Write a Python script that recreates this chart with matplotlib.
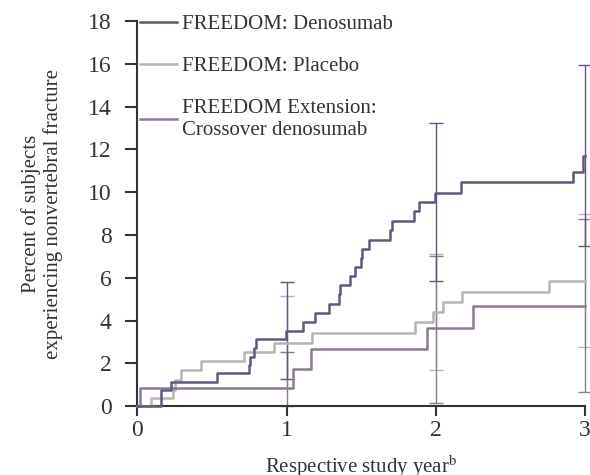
import numpy as np
import matplotlib
matplotlib.use('Agg')
import matplotlib.pyplot as plt

plt.rcParams['font.family'] = ['Liberation Serif', 'DejaVu Serif']
plt.rcParams['mathtext.fontset'] = 'stix'

# Kaplan-Meier style step curves (years, percent)
deno_x = [0, 0.155, 0.227, 0.535, 0.747, 0.758, 0.78, 0.798, 0.995, 1.111, 1.189, 1.283,
          1.35, 1.357, 1.423, 1.457, 1.502, 1.508, 1.551, 1.691, 1.709, 1.852, 1.888,
          1.997, 2.17, 2.92, 2.99, 3.0]
deno_y = [0, 0.76, 1.14, 1.55, 1.94, 2.29, 2.71, 3.12, 3.53, 3.95, 4.36, 4.79,
          5.22, 5.64, 6.06, 6.5, 6.92, 7.35, 7.78, 8.22, 8.65, 9.1, 9.53,
          9.98, 10.47, 10.94, 11.67, 11.67]

plac_x = [0, 0.093, 0.24, 0.253, 0.289, 0.423, 0.713, 0.914, 1.17, 1.86, 1.98, 2.05,
          2.18, 2.76, 3.0]
plac_y = [0, 0.4, 0.76, 1.21, 1.67, 2.11, 2.53, 2.96, 3.43, 3.92, 4.39, 4.85,
          5.35, 5.86, 5.86]

ext_x = [0, 0.02, 1.04, 1.167, 1.94, 2.25, 3.0]
ext_y = [0, 0.85, 1.75, 2.67, 3.64, 4.66, 4.66]

# 95% CI at each year
ci_x = [1, 2, 3]
deno_lo = [1.27, 5.83, 7.47]
deno_hi = [5.78, 13.24, 15.95]
plac_lo = [0.85, 1.71, 2.74]
plac_hi = [5.13, 7.10, 8.96]
ext_lo = [0.0, 0.13, 0.67]
ext_hi = [2.53, 7.02, 8.73]

c_deno = '#5c5b7e'
c_plac = '#b5b5b5'
c_ext = '#8e7993'

fig = plt.figure(figsize=(5.9, 4.75), dpi=100)
ax = fig.add_axes([0.233, 0.145, 0.758, 0.811])

def ci(lo, hi, color):
    lo = np.array(lo)
    hi = np.array(hi)
    mid = (lo + hi) / 2
    ax.errorbar(ci_x, mid, yerr=[mid - lo, hi - mid], fmt='none', ecolor=color,
                elinewidth=1.0, capsize=4.8, capthick=1.0, clip_on=False, zorder=2)

ci(plac_lo, plac_hi, c_plac)
ci(ext_lo, ext_hi, c_ext)
ci(deno_lo, deno_hi, c_deno)

ax.step(plac_x, plac_y, where='post', color=c_plac, lw=1.8, clip_on=False, zorder=3,
        label='FREEDOM: Placebo')
ax.step(ext_x, ext_y, where='post', color=c_ext, lw=1.8, clip_on=False, zorder=3,
        label='FREEDOM Extension:\nCrossover denosumab')
ax.step(deno_x, deno_y, where='post', color=c_deno, lw=1.8, clip_on=False, zorder=4,
        label='FREEDOM: Denosumab')

ax.set_xlim(0, 3)
ax.set_ylim(0, 18)
ax.set_xticks([0, 1, 2, 3])
ax.set_yticks(np.arange(0, 19, 2))
for s in ['top', 'right']:
    ax.spines[s].set_visible(False)
for s in ['left', 'bottom']:
    ax.spines[s].set_color('#333333')
    ax.spines[s].set_linewidth(1.5)
ax.tick_params(direction='out', width=1.5, color='#333333',
               labelsize=17, labelcolor='#333333')
ax.tick_params(axis='x', length=7.2, pad=3)
ax.tick_params(axis='y', length=8.6, pad=10)

ax.set_xlabel('Respective study year$^{\\rm b}$', fontsize=15, color='#333333', labelpad=8)
ax.set_ylabel('Percent of subjects\nexperiencing nonvertebral fracture', fontsize=15,
              color='#333333', labelpad=18, linespacing=1.15)

h, l = ax.get_legend_handles_labels()
order = [2, 0, 1]
leg = ax.legend([h[i] for i in order], [l[i] for i in order], loc='upper left',
                bbox_to_anchor=(0.005, 1.017), frameon=False, fontsize=15,
                handlelength=1.8, handletextpad=0.25, labelspacing=1.1, borderpad=0,
                borderaxespad=0)
for t in leg.get_texts():
    t.set_color('#333333')

fig.savefig('out.png', dpi=100)
